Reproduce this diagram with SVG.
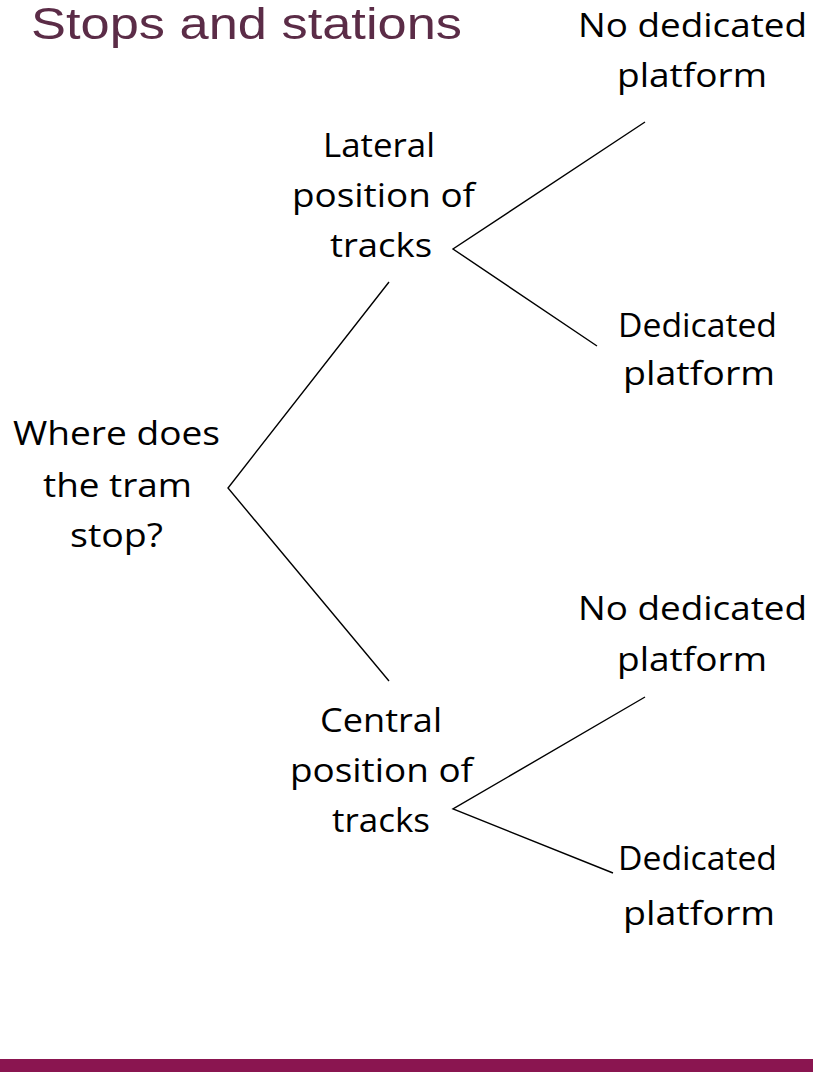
<svg xmlns="http://www.w3.org/2000/svg" width="813" height="1072" viewBox="0 0 813 1072">
<style>
.t{font-family:"Open Sans","Liberation Sans",sans-serif;font-size:32px;fill:#000}
.title{font-family:"Liberation Sans",Arial,sans-serif;font-size:44px;fill:#5B2C47}
.c{stroke:#000;stroke-width:1.4;fill:none}
</style>
<rect width="813" height="1072" fill="#fff"/>
<text class="title" x="31" y="39" textLength="431" lengthAdjust="spacingAndGlyphs">Stops and stations</text>
<g id="connectors">
<polyline class="c" points="389,282 228,488 389,681"/>
<polyline class="c" points="645,122 453,249 597,346"/>
<polyline class="c" points="645,697 453,809 613,873"/>
</g>
<g id="n-root">
<text class="t" x="13" y="445" textLength="207" lengthAdjust="spacingAndGlyphs">Where does</text>
<text class="t" x="43" y="497" textLength="149" lengthAdjust="spacingAndGlyphs">the tram</text>
<text class="t" x="70" y="547" textLength="93" lengthAdjust="spacingAndGlyphs">stop?</text>
</g>
<g id="n-lateral">
<text class="t" x="323" y="157" textLength="112" lengthAdjust="spacingAndGlyphs">Lateral</text>
<text class="t" x="292" y="207" textLength="183" lengthAdjust="spacingAndGlyphs">position of</text>
<text class="t" x="330" y="257" textLength="102" lengthAdjust="spacingAndGlyphs">tracks</text>
</g>
<g id="n-central">
<text class="t" x="320" y="732" textLength="122" lengthAdjust="spacingAndGlyphs">Central</text>
<text class="t" x="290" y="782" textLength="183" lengthAdjust="spacingAndGlyphs">position of</text>
<text class="t" x="332" y="832" textLength="98" lengthAdjust="spacingAndGlyphs">tracks</text>
</g>
<g id="n-lat-nodedicated">
<text class="t" x="578" y="37" textLength="229" lengthAdjust="spacingAndGlyphs">No dedicated</text>
<text class="t" x="617" y="87" textLength="150" lengthAdjust="spacingAndGlyphs">platform</text>
</g>
<g id="n-lat-dedicated">
<text class="t" x="618" y="337" textLength="159" lengthAdjust="spacingAndGlyphs">Dedicated</text>
<text class="t" x="623" y="385" textLength="152" lengthAdjust="spacingAndGlyphs">platform</text>
</g>
<g id="n-cen-nodedicated">
<text class="t" x="578" y="620" textLength="229" lengthAdjust="spacingAndGlyphs">No dedicated</text>
<text class="t" x="617" y="671" textLength="150" lengthAdjust="spacingAndGlyphs">platform</text>
</g>
<g id="n-cen-dedicated">
<text class="t" x="618" y="870" textLength="159" lengthAdjust="spacingAndGlyphs">Dedicated</text>
<text class="t" x="623" y="925" textLength="152" lengthAdjust="spacingAndGlyphs">platform</text>
</g>
<rect id="footer-bar" x="0" y="1059" width="813" height="13" fill="#8A1550"/>
</svg>
